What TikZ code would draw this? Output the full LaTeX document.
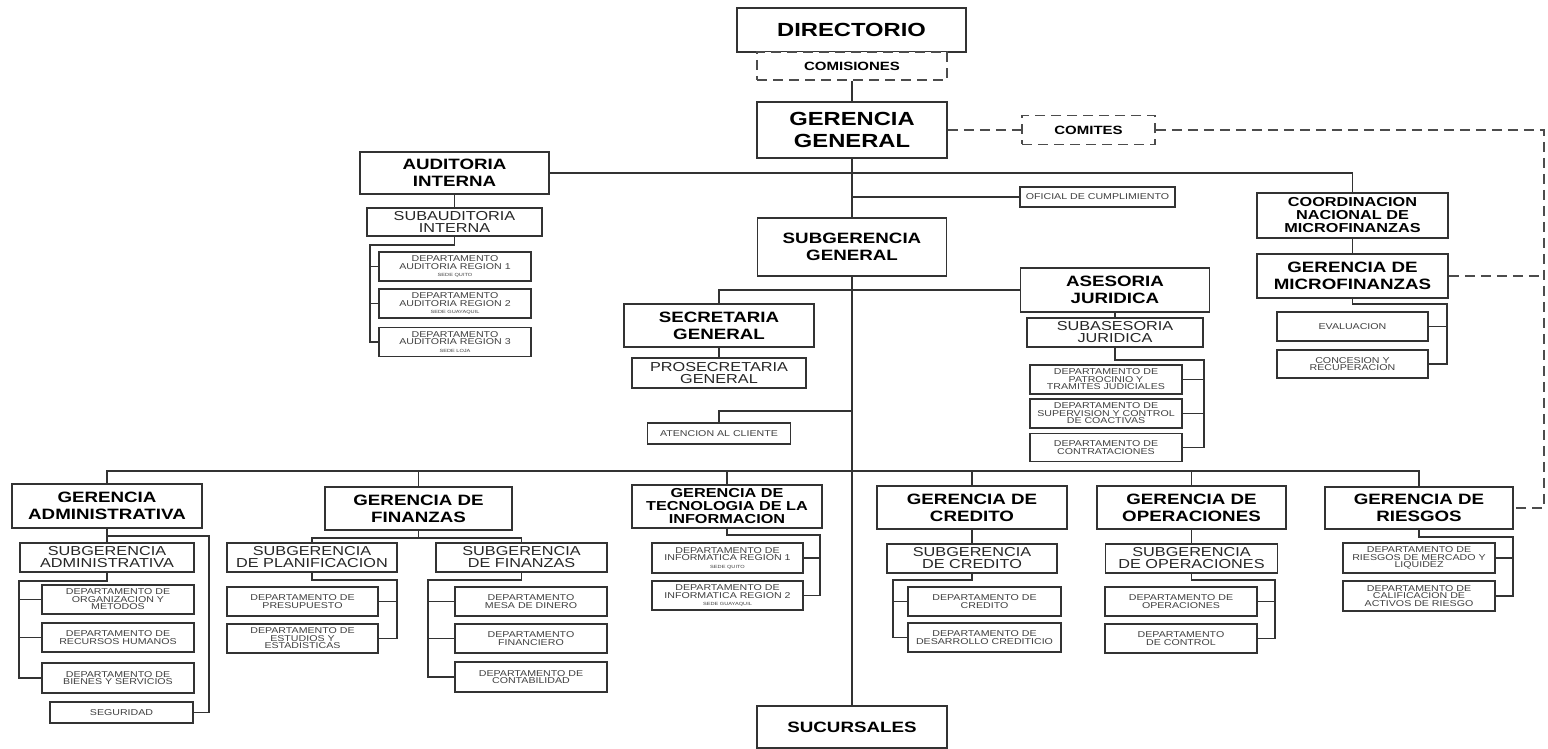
\documentclass[tikz,border=0pt]{standalone}
\usepackage{fontspec}
\setmainfont{Liberation Sans}[FakeStretch=1.25]
\newcommand{\sede}[1]{{\fontsize{4.5}{5}\selectfont #1}}
\tikzset{
  caja/.style={draw=black!80, line width=1.8pt, fill=white, inner sep=0pt, align=center},
  tam/.style 2 args={minimum width=#1pt, minimum height=#2pt},
  mayor/.style={caja, font=\bfseries\fontsize{19}{22}\selectfont},
  titulo/.style={caja, font=\bfseries\fontsize{15}{17}\selectfont},
  titulot/.style={caja, font=\bfseries\fontsize{13}{13}\selectfont},
  sub/.style={caja, text=black!85, font=\fontsize{13}{12}\selectfont},
  depto/.style={caja, text=black!75, font=\fontsize{8.5}{7.5}\selectfont},
  comision/.style={caja, draw=black!70, dash pattern=on 10pt off 6pt, font=\bfseries\fontsize{12}{13}\selectfont},
  linea/.style={draw=black!80, line width=1.8pt},
  punteada/.style={draw=black!70, line width=1.8pt, dash pattern=on 10pt off 6pt},
}
\begin{document}
\begin{tikzpicture}[x=1pt, y=-1pt]
\fill[white] (0,0) rectangle (1548,749);
\useasboundingbox (0,0) rectangle (1548,749);
% cabeza
\node[mayor, tam={229}{44}] (dir) at (851.5,30) {DIRECTORIO};
\node[comision, tam={190}{28}] (comis) at (852,66) {COMISIONES};
\node[mayor, tam={190}{56}] (gg) at (852,130) {GERENCIA\\GENERAL};
\node[comision, tam={133}{29}] (comites) at (1088.5,130) {COMITES};
% auditoria
\node[titulo, tam={189}{42}] (audi) at (454.5,173) {AUDITORIA\\INTERNA};
\node[sub, tam={175}{28}] (subaudi) at (454.5,222) {SUBAUDITORIA\\INTERNA};
\node[depto, tam={152}{29}] (depaud1) at (455,266.5) {DEPARTAMENTO\\AUDITORIA REGION 1\\\sede{SEDE QUITO}};
\node[depto, tam={152}{29}] (depaud2) at (455,303.5) {DEPARTAMENTO\\AUDITORIA REGION 2\\\sede{SEDE GUAYAQUIL}};
\node[depto, tam={152}{29}] (depaud3) at (455,342) {DEPARTAMENTO\\AUDITORIA REGION 3\\\sede{SEDE LOJA}};
\node[depto, tam={155}{20}] (ofic) at (1097.5,197) {OFICIAL DE CUMPLIMIENTO};
% microfinanzas
\node[titulot, tam={191}{45}] (coord) at (1352.5,215.5) {COORDINACION\\NACIONAL DE\\MICROFINANZAS};
\node[titulo, tam={191}{44}] (gmicro) at (1352.5,276) {GERENCIA DE\\MICROFINANZAS};
\node[depto, tam={151}{29}] (eval) at (1352.5,326.5) {EVALUACION};
\node[depto, tam={151}{28}] (conc) at (1352.5,364) {CONCESION Y\\RECUPERACION};
% subgerencia general
\node[titulo, tam={189}{58}] (subg) at (852,247) {SUBGERENCIA\\GENERAL};
\node[titulo, tam={190}{43}] (secg) at (719,325.5) {SECRETARIA\\GENERAL};
\node[sub, tam={174}{30}] (prosec) at (719,373) {PROSECRETARIA\\GENERAL};
\node[depto, tam={143}{21}] (atenc) at (719,433.5) {ATENCION AL CLIENTE};
\node[titulo, tam={189}{44}] (asej) at (1115,290) {ASESORIA\\JURIDICA};
\node[sub, tam={176}{29}] (subasej) at (1115,332.5) {SUBASESORIA\\JURIDICA};
\node[depto, tam={152}{29}] (patro) at (1106,379.5) {DEPARTAMENTO DE\\PATROCINIO Y\\TRAMITES JUDICIALES};
\node[depto, tam={152}{29}] (superv) at (1106,413.5) {DEPARTAMENTO DE\\SUPERVISION Y CONTROL\\DE COACTIVAS};
\node[depto, tam={152}{28}] (contrat) at (1106,447.5) {DEPARTAMENTO DE\\CONTRATACIONES};
% administrativa
\node[titulo, tam={190}{44}] (gadm) at (107,506) {GERENCIA\\ADMINISTRATIVA};
\node[sub, tam={174}{29}] (subadm) at (107,557.5) {SUBGERENCIA\\ADMINISTRATIVA};
\node[depto, tam={152}{29}] (orgmet) at (118,599.5) {DEPARTAMENTO DE\\ORGANIZACION Y\\METODOS};
\node[depto, tam={152}{29}] (rrhh) at (118,637.5) {DEPARTAMENTO DE\\RECURSOS HUMANOS};
\node[depto, tam={152}{30}] (bienes) at (118,678) {DEPARTAMENTO DE\\BIENES Y SERVICIOS};
\node[depto, tam={143}{21}] (segur) at (121.5,712.5) {SEGURIDAD};
% finanzas
\node[titulo, tam={187}{43}] (gfin) at (418.5,508.5) {GERENCIA DE\\FINANZAS};
\node[sub, tam={170}{29}] (subplan) at (312,557.5) {SUBGERENCIA\\DE PLANIFICACION};
\node[sub, tam={171}{29}] (subfin) at (521.5,557.5) {SUBGERENCIA\\DE FINANZAS};
\node[depto, tam={151}{29}] (presup) at (302.5,601.5) {DEPARTAMENTO DE\\PRESUPUESTO};
\node[depto, tam={151}{29}] (estud) at (302.5,638.5) {DEPARTAMENTO DE\\ESTUDIOS Y\\ESTADISTICAS};
\node[depto, tam={152}{29}] (mesa) at (531,601.5) {DEPARTAMENTO\\MESA DE DINERO};
\node[depto, tam={152}{29}] (financ) at (531,638.5) {DEPARTAMENTO\\FINANCIERO};
\node[depto, tam={152}{30}] (contab) at (531,677) {DEPARTAMENTO DE\\CONTABILIDAD};
% tecnologia
\node[titulot, tam={190}{43}] (gti) at (727,506.5) {GERENCIA DE\\TECNOLOGIA DE LA\\INFORMACION};
\node[depto, tam={151}{30}] (info1) at (727.5,558) {DEPARTAMENTO DE\\INFORMATICA REGION 1\\\sede{SEDE QUITO}};
\node[depto, tam={151}{29}] (info2) at (727.5,595.5) {DEPARTAMENTO DE\\INFORMATICA REGION 2\\\sede{SEDE GUAYAQUIL}};
% credito
\node[titulo, tam={190}{43}] (gcred) at (972,507.5) {GERENCIA DE\\CREDITO};
\node[sub, tam={170}{29}] (subcred) at (972,558.5) {SUBGERENCIA\\DE CREDITO};
\node[depto, tam={153}{29}] (dcred) at (984.5,601.5) {DEPARTAMENTO DE\\CREDITO};
\node[depto, tam={153}{29}] (ddesa) at (984.5,637.5) {DEPARTAMENTO DE\\DESARROLLO CREDITICIO};
% operaciones
\node[titulo, tam={189}{43}] (goper) at (1191.5,507.5) {GERENCIA DE\\OPERACIONES};
\node[sub, tam={172}{29}] (suboper) at (1191.5,558.5) {SUBGERENCIA\\DE OPERACIONES};
\node[depto, tam={152}{29}] (doper) at (1181,601.5) {DEPARTAMENTO DE\\OPERACIONES};
\node[depto, tam={152}{29}] (dcontrol) at (1181,638.5) {DEPARTAMENTO\\DE CONTROL};
% riesgos
\node[titulo, tam={188}{42}] (griesg) at (1419,508) {GERENCIA DE\\RIESGOS};
\node[depto, tam={152}{30}] (driesg) at (1419,558) {DEPARTAMENTO DE\\RIESGOS DE MERCADO Y\\LIQUIDEZ};
\node[depto, tam={152}{30}] (dcalif) at (1419,596) {DEPARTAMENTO DE\\CALIFICACION DE\\ACTIVOS DE RIESGO};
\node[titulo, tam={190}{42}] (sucur) at (852,727) {SUCURSALES};
% puntos de quiebre
\coordinate (bus) at (852,471);
\coordinate (dq) at (1544,130);
\coordinate (ca) at (852,411);
\coordinate (ba) at (370,245);
\coordinate (bm) at (1447,304);
\coordinate (bj) at (1204,360);
\coordinate (bs) at (209,536);
\coordinate (bad) at (19,581);
\coordinate (bf) at (418.5,538);
\coordinate (bp) at (397,580);
\coordinate (bfi) at (428,580);
\coordinate (bt) at (820,535);
\coordinate (bc) at (893,580);
\coordinate (bo) at (1275,580);
\coordinate (br) at (1513,537);
% lineas principales
\draw[linea] (comis.south) -- (gg.north);
\draw[linea] (gg.south) -- (subg.north);
\draw[linea] (subg.south) -- (sucur.north);
\draw[linea] (audi.east) -| (coord.north);
\draw[linea] (gg.south |- ofic.west) -- (ofic.west);
\draw[linea] (secg.north) |- (asej.west);
\draw[linea] (ca) -| (atenc.north);
\foreach \g in {gadm,gfin,gti,gcred,goper,griesg} \draw[linea] (bus) -| (\g.north);
% lineas punteadas
\draw[punteada] (gg.east) -- (comites.west);
\draw[punteada] (comites.east) -- (dq) |- (griesg.east);
\draw[punteada] (gmicro.east) -- (gmicro.east -| dq);
% dependencias
\draw[linea] (audi.south) -- (subaudi.north);
\foreach \d in {depaud1,depaud2,depaud3} \draw[linea] (subaudi.south) |- (ba) |- (\d.west);
\draw[linea] (coord.south) -- (gmicro.north);
\foreach \d in {eval,conc} \draw[linea] (gmicro.south) |- (bm) |- (\d.east);
\draw[linea] (secg.south) -- (prosec.north);
\draw[linea] (asej.south) -- (subasej.north);
\foreach \d in {patro,superv,contrat} \draw[linea] (subasej.south) |- (bj) |- (\d.east);
\draw[linea] (gadm.south) -- (subadm.north);
\draw[linea] (gadm.south) |- (bs) |- (segur.east);
\foreach \d in {orgmet,rrhh,bienes} \draw[linea] (subadm.south) |- (bad) |- (\d.west);
\draw[linea] (gfin.south) -- (bf) -| (subplan.north);
\draw[linea] (bf) -| (subfin.north);
\foreach \d in {presup,estud} \draw[linea] (subplan.south) |- (bp) |- (\d.east);
\foreach \d in {mesa,financ,contab} \draw[linea] (subfin.south) |- (bfi) |- (\d.west);
\foreach \d in {info1,info2} \draw[linea] (gti.south) |- (bt) |- (\d.east);
\draw[linea] (gcred.south) -- (subcred.north);
\foreach \d in {dcred,ddesa} \draw[linea] (subcred.south) |- (bc) |- (\d.west);
\draw[linea] (goper.south) -- (suboper.north);
\foreach \d in {doper,dcontrol} \draw[linea] (suboper.south) |- (bo) |- (\d.east);
\foreach \d in {driesg,dcalif} \draw[linea] (griesg.south) |- (br) |- (\d.east);
\end{tikzpicture}
\end{document}
